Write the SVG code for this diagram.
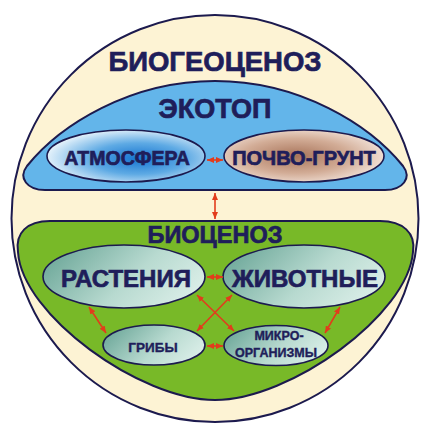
<svg xmlns="http://www.w3.org/2000/svg" width="430" height="432" viewBox="0 0 430 432">
<defs>
<style>
.ol{stroke:#1c1a4e;stroke-width:2;}
.el{stroke:#1c1a4e;stroke-width:1.6;}
.t{font-family:"Liberation Sans",Arial,sans-serif;font-weight:bold;fill:#1f1e5a;stroke:#1f1e5a;stroke-width:0.7;text-anchor:middle;}
.ts{stroke-width:0.4;}
.ar{stroke:#e23c1c;stroke-width:1.6;fill:none;marker-start:url(#ah);marker-end:url(#ah);}
</style>
<marker id="ah" markerUnits="userSpaceOnUse" markerWidth="7" markerHeight="6" refX="7" refY="3" orient="auto-start-reverse">
<path d="M0,0 L7,3 L0,6 Z" fill="#e23c1c"/>
</marker>
<radialGradient id="gAtm" cx="0.58" cy="0.55" r="0.6">
<stop offset="0" stop-color="#1674d0"/>
<stop offset="0.5" stop-color="#5eaae4"/>
<stop offset="1" stop-color="#ecf6fc"/>
</radialGradient>
<radialGradient id="gSoil" cx="0.45" cy="0.5" r="0.6">
<stop offset="0" stop-color="#a8745a"/>
<stop offset="0.55" stop-color="#d2ac96"/>
<stop offset="1" stop-color="#f5e8e0"/>
</radialGradient>
<linearGradient id="gTeal" x1="0" y1="0.3" x2="1" y2="0.7">
<stop offset="0" stop-color="#6fa99b"/>
<stop offset="0.55" stop-color="#b8dad0"/>
<stop offset="1" stop-color="#dcefe9"/>
</linearGradient>
</defs>

<g id="biogeocenoz">
<circle cx="215" cy="218.5" r="203.5" fill="#fdf3d4" class="ol"/>
<text class="t" x="215" y="71" font-size="27.5">БИОГЕОЦЕНОЗ</text>
</g>

<g id="ekotop">
<path d="M45 190 L385 190 C403 190 412 178 403 166 C370 125 300 81 215 81 C130 81 60 125 27 166 C18 178 27 190 45 190 Z" fill="#63b5ea" class="ol"/>
<text class="t" x="215" y="118" font-size="27">ЭКОТОП</text>
</g>

<g id="atmosfera">
<ellipse cx="126" cy="156" rx="79" ry="26" fill="url(#gAtm)" class="el"/>
<text class="t" x="127" y="164.5" font-size="19.5">АТМОСФЕРА</text>
</g>

<g id="pochvo-grunt">
<ellipse cx="304" cy="156" rx="80" ry="26" fill="url(#gSoil)" class="el"/>
<text class="t" x="304" y="164.5" font-size="20">ПОЧВО-ГРУНТ</text>
</g>

<g id="biocenoz">
<path d="M50 221 L380 221 C403 221 416 233 413 252 C408 315 290 400 215 400 C140 400 22 315 18 252 C15 233 27 221 50 221 Z" fill="#78b928" class="ol"/>
<text class="t" x="215" y="243" font-size="23.5">БИОЦЕНОЗ</text>
</g>

<g id="rastenia">
<ellipse cx="124" cy="276.5" rx="81" ry="31.5" fill="url(#gTeal)" class="el"/>
<text class="t" x="126" y="287" font-size="24">РАСТЕНИЯ</text>
</g>

<g id="zhivotnye">
<ellipse cx="304" cy="276.5" rx="81" ry="31.5" fill="url(#gTeal)" class="el"/>
<text class="t" x="305" y="287" font-size="24">ЖИВОТНЫЕ</text>
</g>

<g id="griby">
<ellipse cx="154" cy="345" rx="51" ry="20" fill="url(#gTeal)" class="el"/>
<text class="t ts" x="153" y="352" font-size="13.5">ГРИБЫ</text>
</g>

<g id="mikroorganizmy">
<ellipse cx="276" cy="345.5" rx="52" ry="20" fill="url(#gTeal)" class="el"/>
<text class="t ts" x="279" y="340" font-size="12.5">МИКРО-</text>
<text class="t ts" x="276" y="357" font-size="12.5">ОРГАНИЗМЫ</text>
</g>

<g id="connectors">
<line class="ar" x1="207" y1="160" x2="223" y2="160"/>
<line class="ar" x1="215" y1="193" x2="215" y2="219"/>
<line class="ar" x1="207" y1="277" x2="223" y2="277"/>
<line class="ar" x1="207" y1="346" x2="223" y2="346"/>
<line class="ar" x1="197" y1="295" x2="234" y2="331"/>
<line class="ar" x1="232" y1="295" x2="197" y2="331"/>
<line class="ar" x1="89" y1="307" x2="106" y2="333"/>
<line class="ar" x1="340" y1="307" x2="325" y2="333"/>
</g>
</svg>
